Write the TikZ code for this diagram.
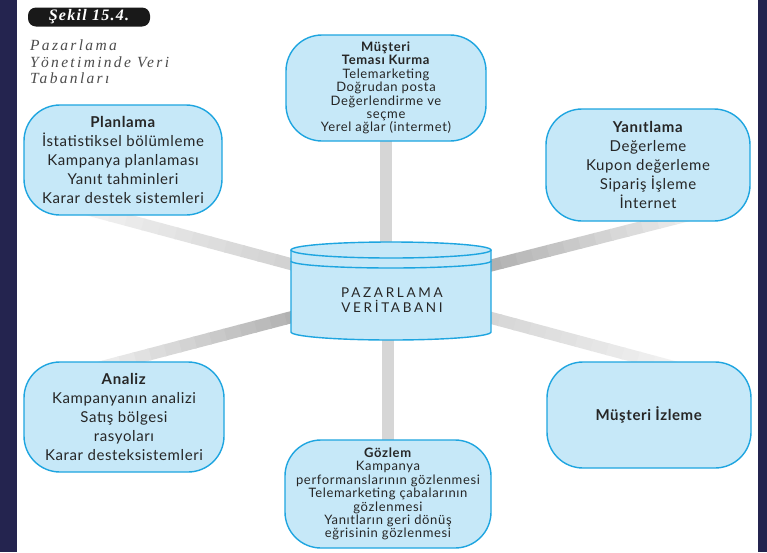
\documentclass[tikz,border=0pt]{standalone}
\usepackage{fontspec}
\setmainfont{Lato}[LetterSpace=4]
\newfontfamily\smallfont{Lato}[LetterSpace=5]
\newfontfamily\dbfont{Lato}[LetterSpace=20]
\newfontfamily\capfont{Liberation Serif}[LetterSpace=15]
\newfontfamily\labfont{Liberation Serif}[LetterSpace=8]
\usetikzlibrary{calc}
\definecolor{navy}{HTML}{24244F}
\definecolor{boxfill}{HTML}{C6E8F8}
\definecolor{boxline}{HTML}{1EA5E0}
\definecolor{txt}{HTML}{262626}
\newcommand\gradbar[4]{%
  \foreach \i in {0,...,19}{%
    \pgfmathsetmacro\pp{#3+(#4-#3)*\i/19}%
    \pgfmathsetmacro\ta{\i/20}%
    \pgfmathsetmacro\tb{min(1,(\i+1.1)/20)}%
    \draw[line width=12pt, color=black!\pp] ($(#1)!\ta!(#2)$) -- ($(#1)!\tb!(#2)$);
  }}
\tikzset{
  box/.style={draw=boxline, fill=boxfill, line width=1.4pt, rounded corners=36pt,
    align=center, text=txt, inner sep=0pt},
  bigtxt/.style={font=\fontsize{15}{19}\selectfont},
  smalltxt/.style={font=\smallfont\fontsize{13}{13.4}\selectfont},
  vbar/.style={line width=12pt, color=black!16},
  cylline/.style={draw=boxline, line width=1.4pt},
}
\begin{document}
\begin{tikzpicture}[x=1pt,y=-1pt]
\useasboundingbox (0,0) rectangle (767,552);
\fill[white] (0,0) rectangle (767,552);
\fill[navy] (0,0) rectangle (17,552);
\fill[navy] (758,0) rectangle (767,552);

% label and caption
\node[fill=black!90, rounded corners=8pt, minimum width=122pt, minimum height=19pt,
  inner sep=0pt, text=white, font=\labfont\fontsize{16}{16}\selectfont\bfseries\itshape]
  (lab) at (89,17) {Şekil 15.4.};
\node[anchor=north west, align=left, text=black!70, inner sep=0pt,
  font=\capfont\fontsize{15.5}{16.2}\selectfont\itshape] (cap) at (30,40)
  {Pazarlama\\Yönetiminde Veri\\Tabanları};

% bar end points
\coordinate (c) at (391,291);
\coordinate (plE) at (60,202);
\coordinate (anE) at (90,370);
\coordinate (yaE) at (705,211);
\coordinate (izE) at (700,374);
\coordinate (topC) at (386,88);
\coordinate (gozC) at (388,494);

% connectors
\draw[vbar] (topC) -- (topC |- c);
\draw[vbar] (gozC) -- (gozC |- c);
\gradbar{plE}{c}{4}{24}
\gradbar{c}{izE}{22}{4}
\gradbar{c}{anE}{42}{6}
\gradbar{c}{yaE}{42}{6}

% boxes
\node[box, smalltxt, minimum width=200pt, minimum height=106pt] (top) at (topC)
  {\textbf{Müşteri}\\\textbf{Teması Kurma}\\Telemarketing\\Doğrudan posta\\Değerlendirme ve\\seçme\\Yerel ağlar (intermet)};
\node[box, bigtxt, minimum width=198pt, minimum height=110pt] (plan) at (123,160)
  {\textbf{Planlama}\\İstatistiksel bölümleme\\Kampanya planlaması\\Yanıt tahminleri\\Karar destek sistemleri};
\node[box, bigtxt, minimum width=204pt, minimum height=112pt] (yan) at (648,165)
  {\textbf{Yanıtlama}\\Değerleme\\Kupon değerleme\\Sipariş İşleme\\İnternet};
\node[box, bigtxt, minimum width=200pt, minimum height=110pt] (anl) at (124,417)
  {\textbf{Analiz}\\Kampanyanın analizi\\Satış bölgesi\\rasyoları\\Karar desteksistemleri};
\node[box, bigtxt, minimum width=204pt, minimum height=106pt] (izl) at (649,415)
  {\textbf{Müşteri İzleme}};
\node[box, smalltxt, minimum width=206pt, minimum height=108pt] (goz) at (gozC)
  {\textbf{Gözlem}\\Kampanya\\performanslarının gözlenmesi\\Telemarketing çabalarının\\gözlenmesi\\Yanıtların geri dönüş\\eğrisinin gözlenmesi};

% cylinder
\path[fill=boxfill] (291,250) -- (291,332) arc[start angle=180, end angle=0, x radius=100, y radius=8]
  -- (491,250) arc[start angle=0, end angle=-180, x radius=100, y radius=8] -- cycle;
\draw[cylline] (291,250) -- (291,332) arc[start angle=180, end angle=0, x radius=100, y radius=8] -- (491,250);
\draw[cylline] (391,250) ellipse[x radius=100, y radius=8];
\draw[cylline] (291,261) arc[start angle=180, end angle=0, x radius=100, y radius=7];
\node[align=center, text=txt, inner sep=0pt, font=\dbfont\fontsize{13.5}{15}\selectfont] (db) at (392,300)
  {PAZARLAMA\\VERİTABANI};
\end{tikzpicture}
\end{document}
